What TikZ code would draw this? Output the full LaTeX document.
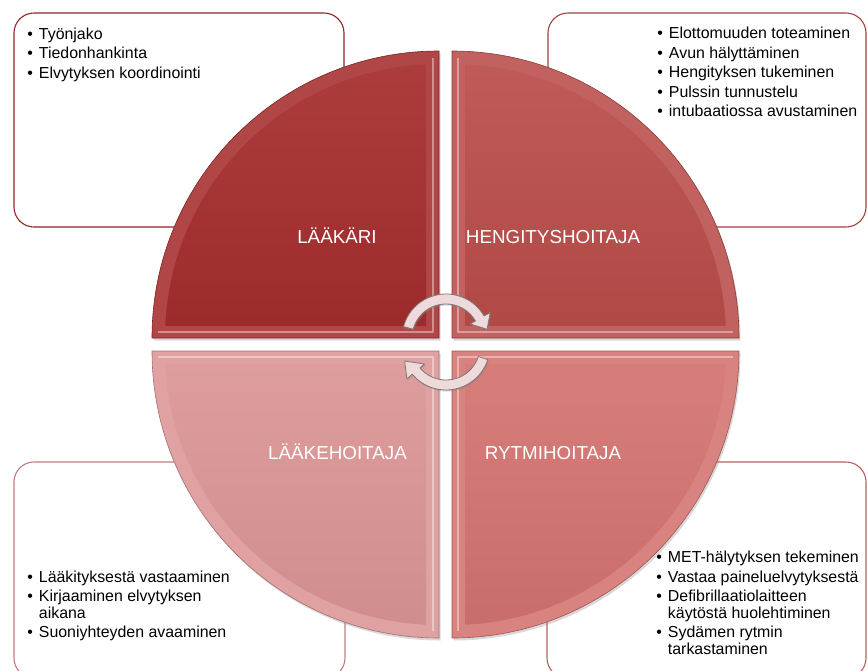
\documentclass[tikz,border=0pt]{standalone}
\usepackage{fontspec}
\setmainfont{Liberation Sans}
\usetikzlibrary{shadows}

\definecolor{laakariRed}{RGB}{166,45,45}
\definecolor{hengitysRed}{RGB}{186,77,74}
\definecolor{rytmiRed}{RGB}{211,114,111}
\definecolor{laakeRed}{RGB}{219,148,148}
\definecolor{arrowFill}{RGB}{238,218,218}
\definecolor{arrowLine}{RGB}{128,118,118}

\newcommand{\kohdat}[1]{\begin{tabular}[t]{@{}l@{\hspace{6pt}}l@{}}#1\end{tabular}}

\tikzset{
  tehtava/.style={draw=#1!85!black, line width=1.1pt, fill=white, rounded corners=20pt},
  lista/.style={inner sep=0pt, anchor=base west, font=\fontsize{15.9}{16.5}\selectfont},
  rooli/.style={inner sep=0pt, anchor=base, text=white, font=\fontsize{18.8}{20}\selectfont},
  viiste/.style={fill=#1!88!white, draw=#1!75!black, line width=0.6pt,
    drop shadow={opacity=0.3, shadow xshift=1.5pt, shadow yshift=-2.5pt}},
  pinta/.style={top color=#1!92!white, bottom color=#1!95!black},
  kiilto/.style={white, opacity=0.4, line width=2pt},
  kiertonuoli/.style={fill=arrowFill, draw=arrowLine, line width=0.8pt, line join=round,
    drop shadow={opacity=0.35, shadow xshift=1pt, shadow yshift=-1.5pt}}
}

\begin{document}
\begin{tikzpicture}[x=1pt, y=-1pt]
\useasboundingbox (0,0) rectangle (868,670);

% laatikot
\draw[tehtava=laakariRed] (14,13) rectangle (344,227);
\draw[tehtava=hengitysRed] (548,13) rectangle (866,227);
\draw[tehtava=laakeRed] (14,462) rectangle (345,678);
\draw[tehtava=rytmiRed] (547,462) rectangle (866,678);

\node[lista] (laakariLista) at (27.2,39) {\kohdat{%
  • & Työnjako\\[3pt]
  • & Tiedonhankinta\\[3pt]
  • & Elvytyksen koordinointi}};
\node[lista] (hengitysLista) at (657.2,38.5) {\kohdat{%
  • & Elottomuuden toteaminen\\[3pt]
  • & Avun hälyttäminen\\[3pt]
  • & Hengityksen tukeminen\\[3pt]
  • & Pulssin tunnustelu\\[3pt]
  • & intubaatiossa avustaminen}};
\node[lista] (laakeLista) at (27.2,582) {\kohdat{%
  • & Lääkityksestä vastaaminen\\[3pt]
  • & Kirjaaminen elvytyksen\\
    & aikana\\[3pt]
  • & Suoniyhteyden avaaminen}};
\node[lista] (rytmiLista) at (656.2,562.5) {\kohdat{%
  • & MET-hälytyksen tekeminen\\[3pt]
  • & Vastaa paineluelvytyksestä\\[3pt]
  • & Defibrillaatiolaitteen\\
    & käytöstä huolehtiminen\\[3pt]
  • & Sydämen rytmin\\
    & tarkastaminen}};

% neljannekset
\draw[viiste=laakariRed] (439,338) -- (152,338) arc[start angle=180, end angle=270, radius=287] -- cycle;
\begin{scope}
  \clip (439,338) circle[radius=274];
  \shade[pinta=laakariRed] (426,325) rectangle (150,49);
\end{scope}
\draw[kiilto] (433,58) -- (433,332) -- (158,332);

\draw[viiste=hengitysRed] (452,338) -- (452,51) arc[start angle=270, end angle=360, radius=287] -- cycle;
\begin{scope}
  \clip (452,338) circle[radius=274];
  \shade[pinta=hengitysRed] (465,325) rectangle (741,49);
\end{scope}
\draw[kiilto] (458,58) -- (458,332) -- (733,332);

\draw[viiste=rytmiRed] (452,351) -- (739,351) arc[start angle=0, end angle=90, radius=287] -- cycle;
\begin{scope}
  \clip (452,351) circle[radius=274];
  \shade[pinta=rytmiRed] (465,364) rectangle (741,640);
\end{scope}
\draw[kiilto] (458,631) -- (458,357) -- (733,357);

\draw[viiste=laakeRed] (439,351) -- (439,638) arc[start angle=90, end angle=180, radius=287] -- cycle;
\begin{scope}
  \clip (439,351) circle[radius=274];
  \shade[pinta=laakeRed] (426,364) rectangle (150,640);
\end{scope}
\draw[kiilto] (433,631) -- (433,357) -- (158,357);

\node[rooli] (laakari) at (337,243.3) {LÄÄKÄRI};
\node[rooli] (hengitys) at (553,243.3) {HENGITYSHOITAJA};
\node[rooli] (laakehoitaja) at (337.5,459.3) {LÄÄKEHOITAJA};
\node[rooli] (rytmi) at (553,459.3) {RYTMIHOITAJA};

% kiertonuolet
\begin{scope}[shift={(446,338)}]
  \draw[kiertonuoli] (195:44) arc[start angle=195, end angle=330, radius=44] -- (330:51)
    -- (348:42) -- (330:28) -- (330:34) arc[start angle=330, end angle=195, radius=34] -- cycle;
\end{scope}
\begin{scope}[shift={(446,346)}]
  \draw[kiertonuoli] (18:44) arc[start angle=18, end angle=140, radius=44] -- (140:51)
    -- (160:44) -- (140:28) -- (140:34) arc[start angle=140, end angle=18, radius=34] -- cycle;
\end{scope}
\end{tikzpicture}
\end{document}
